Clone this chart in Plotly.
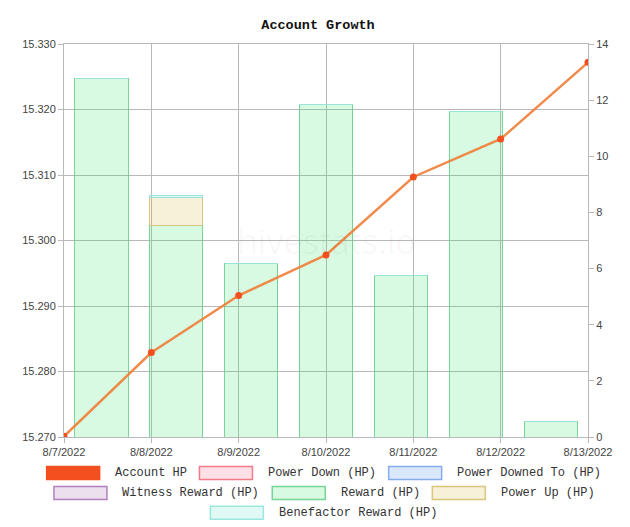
"""
Account Growth — account HP line over daily HP changes (stacked bars).
"""

import plotly.graph_objects as go

# --- data ---
dates = ["8/7/2022", "8/8/2022", "8/9/2022", "8/10/2022",
         "8/11/2022", "8/12/2022", "8/13/2022"]
account_hp = [15.2701, 15.2829, 15.2916, 15.2978, 15.3097, 15.3155, 15.3272]

power_down = [0, 0, 0, 0, 0, 0, 0]
power_downed_to = [0, 0, 0, 0, 0, 0, 0]
witness_reward = [0, 0, 0, 0, 0, 0, 0]
reward = [12.78, 7.54, 6.17, 11.83, 5.75, 11.59, 0.57]
power_up = [0, 1.0, 0, 0, 0, 0, 0]
benefactor_reward = [0, 0.08, 0, 0, 0, 0, 0]

left_ticks = [15.270, 15.280, 15.290, 15.300, 15.310, 15.320, 15.330]
right_ticks = [0, 2, 4, 6, 8, 10, 12, 14]

# name, values, fill, border
bar_series = [
    ("Power Down (HP)", power_down, "rgba(255,99,132,0.2)", "rgba(240,110,125,0.9)"),
    ("Power Downed To (HP)", power_downed_to, "rgba(54,130,235,0.18)", "rgba(120,165,235,0.9)"),
    ("Witness Reward (HP)", witness_reward, "rgba(150,80,160,0.18)", "rgba(170,115,185,0.9)"),
    ("Reward (HP)", reward, "rgba(60,230,110,0.2)", "rgba(100,205,135,0.85)"),
    ("Power Up (HP)", power_up, "rgba(220,190,80,0.22)", "rgba(215,195,120,0.95)"),
    ("Benefactor Reward (HP)", benefactor_reward, "rgba(90,220,200,0.18)", "rgba(150,230,220,0.95)"),
]
line_color = "rgba(240,125,55,0.9)"
point_color = "#f2511f"

MONO = "Liberation Mono, DejaVu Sans Mono, monospace"
SANS = "Liberation Sans, Arial, sans-serif"
W, H = 630, 527
OFF = 8  # page body margin pushes the figure 8px right/down
# wanted plot box in window pixels: x 64..588, y 44..437
L, T = 64 - OFF, 44 - OFF
R, B = W + OFF - 588, H + OFF - 437

fig = go.Figure()

for name, vals, fill, border in bar_series:
    fig.add_trace(go.Bar(
        x=dates, y=vals, name=name, xaxis="x", yaxis="y",
        marker=dict(color=fill, line=dict(color=border, width=1)),
        width=0.71, showlegend=False,
    ))

fig.add_trace(go.Scatter(
    x=dates, y=account_hp, name="Account HP", xaxis="x2", yaxis="y2",
    mode="lines+markers",
    line=dict(color=line_color, width=2.5),
    marker=dict(color=point_color, size=7),
    showlegend=False,
))

grid = "#b8b8b8"
fig.update_layout(
    width=W, height=H,
    margin=dict(l=L, r=R, t=T, b=B),
    paper_bgcolor="white", plot_bgcolor="white",
    barmode="stack",
    showlegend=False,
    title=dict(text="<b>Account Growth</b>", x=(318 - OFF) / W, xanchor="center",
               y=1 - (24 - OFF) / H, yanchor="middle", yref="container",
               font=dict(family=MONO, size=13.5, color="#111")),
    xaxis=dict(type="category", range=[-0.5, 6.5], showticklabels=False,
               showgrid=False, ticks="", showline=True, linecolor=grid, mirror=True),
    yaxis=dict(side="right", range=[0, 14], tickvals=right_ticks, showgrid=False,
               ticks="outside", ticklen=5, tickcolor=grid, zeroline=False,
               showline=True, linecolor=grid,
               tickfont=dict(family=SANS, size=11, color="#444")),
    xaxis2=dict(type="category", overlaying="x", range=[0, 6], side="bottom",
                showgrid=True, gridcolor=grid, ticks="outside", ticklen=5,
                tickcolor=grid, showline=False,
                tickfont=dict(family=SANS, size=11, color="#444")),
    yaxis2=dict(overlaying="y", side="left", range=[15.270, 15.330],
                tickvals=left_ticks, tickformat=".3f", showgrid=True,
                gridcolor=grid, ticks="outside", ticklen=5, tickcolor=grid,
                zeroline=False, showline=True, linecolor=grid,
                tickfont=dict(family=SANS, size=11, color="#444")),
)

# watermark
fig.add_annotation(text="hivestats.io", xref="paper", yref="paper", x=0.5, y=0.5,
                   showarrow=False,
                   font=dict(family="Open Sans, sans-serif", size=34,
                             color="rgba(0,0,0,0.035)"))

# --- hand-built legend (wide swatches like the original) ---
legend_items = [("Account HP", "rgba(242,81,31,1)", "rgba(242,81,31,1)")] + \
    [(n, f, b) for n, _, f, b in bar_series]
legend_rows = [legend_items[0:3], legend_items[3:6], legend_items[6:]]

pw, ph = 588 - 64, 437 - 44
SW, SH, GAP, CH = 53, 13, 13.5, 7.28
row_y = [473, 493, 512.7]
cx = 323.7


def px(x):
    return (x - 64) / pw


def py(y):
    return (437 - y) / ph


for ry, row in zip(row_y, legend_rows):
    widths = [SW + GAP + len(n) * CH for n, _, _ in row]
    total = sum(widths) + GAP * (len(row) - 1)
    x0 = cx - total / 2
    for (name, fill, border), w in zip(row, widths):
        fig.add_shape(type="rect", xref="paper", yref="paper",
                      x0=px(x0), x1=px(x0 + SW), y0=py(ry - SH / 2), y1=py(ry + SH / 2),
                      fillcolor=fill, line=dict(color=border, width=1.5))
        fig.add_annotation(text=name, xref="paper", yref="paper",
                           x=px(x0 + SW + GAP), y=py(ry), xanchor="left", yanchor="middle",
                           showarrow=False,
                           font=dict(family=MONO, size=12, color="#333"))
        x0 += w + GAP

fig.write_html("out.html")
